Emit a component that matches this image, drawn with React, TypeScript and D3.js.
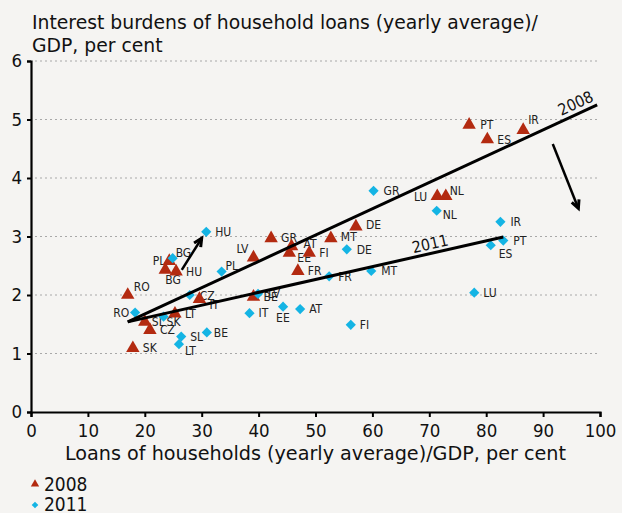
import { select, scaleLinear, axisBottom, axisLeft, symbol, symbolTriangle, symbolSquare, line, format } from 'd3';
import { useEffect, useRef } from 'react';

// 2008 observations: loans/GDP (x) and interest burden/GDP (y)
const countries2008 = ['RO', 'SK', 'SL', 'CZ', 'LT', 'PL', 'BG', 'HU', 'IT', 'BE', 'LV', 'GR', 'AT', 'EE', 'FI', 'FR', 'MT', 'DE', 'LU', 'NL', 'PT', 'ES', 'IR'];
const loans2008 = [17.0, 17.9, 20.0, 20.9, 25.3, 24.3, 23.6, 25.5, 29.6, 39.1, 39.1, 42.2, 45.8, 45.4, 48.9, 46.9, 52.7, 57.1, 71.4, 72.9, 77.0, 80.2, 86.5];
const burden2008 = [2.0, 1.09, 1.54, 1.4, 1.68, 2.58, 2.43, 2.4, 1.93, 1.97, 2.64, 2.97, 2.83, 2.72, 2.72, 2.41, 2.97, 3.17, 3.69, 3.69, 4.91, 4.66, 4.82];

// 2011 observations
const countries2011 = ['RO', 'SK', 'LT', 'SL', 'CZ', 'BG', 'HU', 'PL', 'BE', 'IT', 'LV', 'EE', 'AT', 'FR', 'DE', 'FI', 'MT', 'GR', 'NL', 'LU', 'ES', 'IR', 'PT'];
const loans2011 = [18.3, 23.3, 26.0, 26.4, 27.9, 24.9, 30.8, 33.5, 30.9, 38.4, 39.9, 44.3, 47.3, 52.4, 55.5, 56.2, 59.8, 60.2, 71.3, 77.9, 80.8, 82.5, 83.0];
const burden2011 = [1.7, 1.63, 1.16, 1.29, 2.0, 2.63, 3.08, 2.4, 1.36, 1.69, 2.02, 1.8, 1.76, 2.32, 2.78, 1.49, 2.41, 3.78, 3.44, 2.04, 2.85, 3.25, 2.93];

// fitted lines, [x, y] start and end
const trend2008: [number, number][] = [[17.0, 1.54], [99.5, 5.25]];
const trend2011: [number, number][] = [[17.0, 1.54], [83.0, 2.99]];

// annotation arrows (from, to)
const arrows: [number, number][][] = [
  [[26.5, 2.43], [30.0, 2.97]],
  [[91.7, 4.58], [96.2, 3.48]],
];

const xTicks = [0, 10, 20, 30, 40, 50, 60, 70, 80, 90, 100];
const yTicks = [0, 1, 2, 3, 4, 5, 6];
const gridTicks = [1, 2, 3, 4, 5, 6];

// label placement: dx, dy from marker centre, anchor
type Off = [number, number, string?];
const labelPos2008: Record<string, Off> = {
  RO: [6, -8], SK: [10, 0], SL: [7, 0], CZ: [10, 0], LT: [10, 0], PL: [-4, 0, 'end'], BG: [0, 10],
  HU: [10, 0], IT: [10, 6], BE: [10, 0], LV: [-5, -9, 'end'], GR: [10, 0], AT: [12, -3], EE: [8, 5],
  FI: [10, 0], FR: [10, 0], MT: [10, -1], DE: [10, -2], LU: [-10, 1, 'end'], NL: [4, -5], PT: [11, 0],
  ES: [10, 0], IR: [5, -10],
};
const labelPos2011: Record<string, Off> = {
  RO: [-6, 0, 'end'], SK: [3, 5], LT: [6, 7], SL: [9, 0], CZ: [10, 1], BG: [3, -5], HU: [9, 0],
  PL: [4, -6], BE: [7, 0], IT: [9, 0], LV: [10, 0], EE: [-7, 11], AT: [9, 0], FR: [9, 1], DE: [10, 0],
  FI: [9, 0], MT: [10, 0], GR: [10, 0], NL: [6, 4], LU: [9, 0], ES: [8, 9], IR: [10, 0], PT: [10, 0],
};

const FONT = '"DejaVu Sans", sans-serif';
const FONT_NARROW = '"DejaVu Sans Condensed", "DejaVu Sans", sans-serif';
const RED = '#b32a10';
const CYAN = '#14b4e4';

export default function App() {
  const svgRef = useRef<SVGSVGElement | null>(null);

  useEffect(() => {
    if (!svgRef.current) return;
    const svg = select(svgRef.current);
    svg.selectAll('*').remove();

    const width = 622;
    const height = 513;

    const x = scaleLinear().domain([0, 100]).range([31, 600]);
    const y = scaleLinear().domain([0, 6]).range([412, 61]);

    svg.append('rect').attr('width', width).attr('height', height).attr('fill', '#f5f4f2');

    // title
    const title = svg.append('text')
      .attr('font-family', FONT).attr('font-size', 18.8).attr('fill', '#111');
    title.append('tspan').attr('x', 32).attr('y', 29).text('Interest burdens of household loans (yearly average)/');
    title.append('tspan').attr('x', 32).attr('y', 52).text('GDP, per cent');

    // gridlines
    svg.append('g').selectAll('line').data(gridTicks).enter().append('line')
      .attr('x1', x(0) + 4).attr('x2', 598)
      .attr('y1', (d: number) => y(d)).attr('y2', (d: number) => y(d))
      .attr('stroke', '#a8a8a8').attr('stroke-width', 1).attr('stroke-dasharray', '2,3');

    // axes
    const xAxis = svg.append('g')
      .attr('transform', `translate(0,${y(0)})`)
      .call(axisBottom(x).tickValues(xTicks).tickSize(5).tickPadding(7).tickFormat(format('d')));
    const yAxis = svg.append('g')
      .attr('transform', `translate(${x(0)},0)`)
      .call(axisLeft(y).tickValues(yTicks).tickSize(4).tickPadding(5).tickFormat(format('d')));
    [xAxis, yAxis].forEach((a: any) => {
      a.select('.domain').attr('stroke', '#000').attr('stroke-width', 2.2);
      a.selectAll('.tick line').attr('stroke', '#000').attr('stroke-width', 2);
      a.selectAll('.tick text').attr('font-family', FONT_NARROW).attr('font-stretch', 'condensed').attr('font-size', 18.5).attr('fill', '#111');
    });

    svg.append('text')
      .attr('x', (x(0) + x(100)) / 2).attr('y', 460)
      .attr('text-anchor', 'middle')
      .attr('font-family', FONT).attr('font-size', 19.2).attr('fill', '#111')
      .text('Loans of households (yearly average)/GDP, per cent');

    const tri = symbol().type(symbolTriangle).size(78)();
    const dia = symbol().type(symbolSquare).size(52)();

    const pts2008 = countries2008.map((c, i) => ({ c, x: loans2008[i], y: burden2008[i] }));
    const pts2011 = countries2011.map((c, i) => ({ c, x: loans2011[i], y: burden2011[i] }));

    const labels = svg.append('g')
      .attr('font-family', FONT_NARROW).attr('font-stretch', 'condensed').attr('font-size', 12).attr('fill', '#222');

    const drawSeries = (pts: { c: string; x: number; y: number }[], pos: Record<string, Off>, path: string, fill: string, rot: number) => {
      svg.append('g').selectAll('path').data(pts).enter().append('path')
        .attr('d', path)
        .attr('fill', fill)
        .attr('transform', (d: any) => `translate(${x(d.x)},${y(d.y)}) rotate(${rot})`);
      labels.selectAll(null).data(pts).enter().append('text')
        .attr('x', (d: any) => x(d.x) + pos[d.c][0])
        .attr('y', (d: any) => y(d.y) + pos[d.c][1])
        .attr('dy', '0.35em')
        .attr('text-anchor', (d: any) => pos[d.c][2] || 'start')
        .text((d: any) => d.c);
    };
    drawSeries(pts2008, labelPos2008, tri, RED, 0);
    drawSeries(pts2011, labelPos2011, dia, CYAN, 45);

    // trend lines
    const ln = line<[number, number]>().x((d) => x(d[0])).y((d) => y(d[1]));
    [trend2008, trend2011].forEach((t) => {
      svg.append('path').attr('d', ln(t)).attr('fill', 'none').attr('stroke', '#000').attr('stroke-width', 3);
    });

    const lineLabel = (t: [number, number][], at: number, txt: string, off: number) => {
      const x1 = x(t[0][0]), y1 = y(t[0][1]), x2 = x(t[1][0]), y2 = y(t[1][1]);
      const ang = Math.atan2(y2 - y1, x2 - x1) * 180 / Math.PI;
      const px = x(at);
      const py = y1 + (y2 - y1) * (px - x1) / (x2 - x1);
      svg.append('text')
        .attr('transform', `translate(${px},${py}) rotate(${ang})`)
        .attr('y', -off)
        .attr('text-anchor', 'middle')
        .attr('font-family', FONT_NARROW).attr('font-stretch', 'condensed').attr('font-size', 16).attr('fill', '#111')
        .text(txt);
    };
    lineLabel(trend2008, 96.5, '2008', 5);
    lineLabel(trend2011, 70.5, '2011', 4);

    // arrows
    arrows.forEach((a) => {
      const x1 = x(a[0][0]), y1 = y(a[0][1]), x2 = x(a[1][0]), y2 = y(a[1][1]);
      const ang = Math.atan2(y2 - y1, x2 - x1);
      const head = 9;
      const spread = 0.45;
      svg.append('line').attr('x1', x1).attr('y1', y1).attr('x2', x2).attr('y2', y2)
        .attr('stroke', '#000').attr('stroke-width', 2.5);
      svg.append('path')
        .attr('d', `M${x2 - head * Math.cos(ang - spread)},${y2 - head * Math.sin(ang - spread)}L${x2},${y2}L${x2 - head * Math.cos(ang + spread)},${y2 - head * Math.sin(ang + spread)}`)
        .attr('fill', 'none').attr('stroke', '#000').attr('stroke-width', 3).attr('stroke-linejoin', 'miter');
    });

    // legend
    const legend = svg.append('g').attr('font-family', FONT_NARROW).attr('font-stretch', 'condensed').attr('font-size', 19).attr('fill', '#111');
    legend.append('path').attr('d', symbol().type(symbolTriangle).size(30)()).attr('fill', RED)
      .attr('transform', 'translate(35,484)');
    legend.append('text').attr('x', 44).attr('y', 491).text('2008');
    legend.append('path').attr('d', symbol().type(symbolSquare).size(22)()).attr('fill', CYAN)
      .attr('transform', 'translate(35,505) rotate(45)');
    legend.append('text').attr('x', 44).attr('y', 511).text('2011');
  }, []);

  return (
    <div style={{ position: 'absolute', left: 0, top: 0 }}>
      <svg ref={svgRef} width={622} height={513} style={{ display: 'block' }} />
    </div>
  );
}
